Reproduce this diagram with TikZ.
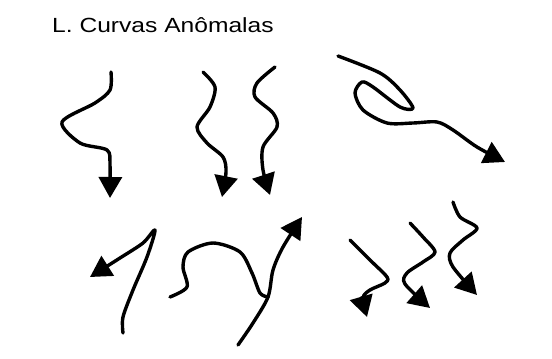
\documentclass[tikz,border=0pt]{standalone}
\usepackage{fontspec}
\setmainfont{Liberation Sans}
\usetikzlibrary{arrows.meta}
\tikzset{
  curva/.style={line width=3.4pt,line cap=round,line join=round},
  seta/.style={-{Triangle[width=23pt,length=21pt]}}
}
\begin{document}
\begin{tikzpicture}[x=1pt,y=-1pt,font=\fontsize{20.5}{24}\selectfont]
	\useasboundingbox (0,0) rectangle (552,359);
	\node[anchor=base west,inner sep=0pt] (titulo) at (52,32) {\scalebox{1.2}[1]{L. Curvas Anômalas}};
	% linha de cima
	\draw[curva,seta] plot[smooth] coordinates {(111,72) (110,90) (95,103) (62,122) (80,143) (107,150) (110,165) (110,198)};
	\draw[curva,seta] plot[smooth] coordinates {(203,72) (215,87) (210,107) (197,127) (207,143) (223,157) (226,172) (222,197)};
	\draw[curva,seta] plot[smooth] coordinates {(275,67) (257,83) (255,97) (273,113) (277,127) (263,147) (263,170) (270,195)};
	\draw[curva,seta] plot[smooth] coordinates {(338,56) (380,73) (400,90) (413,108) (400,107) (373,87) (362,82) (355,93) (363,110) (387,123) (413,123) (437,122) (453,130) (477,147) (505,162)};
	% linha de baixo
	\draw[curva,seta] plot[smooth] coordinates {(123,333) (123,317) (133,290) (147,257) (155,230) (143,243) (120,258) (90,277)};
	\draw[curva] plot[smooth] coordinates {(170,297) (187,287) (183,267) (188,252) (213,243) (240,252) (252,273) (260,293) (268,297)};
	\draw[curva,seta] plot[smooth] coordinates {(238,345) (253,323) (268,297) (273,270) (283,247) (302,217)};
	\draw[curva,seta] plot[smooth] coordinates {(350,240) (370,260) (387,277) (385,283) (370,290) (363,298) (367,317)};
	\draw[curva,seta] plot[smooth] coordinates {(410,223) (423,237) (435,252) (423,262) (407,273) (405,284) (430,308)};
	\draw[curva,seta] plot[smooth] coordinates {(453,202) (460,217) (477,228) (463,240) (450,253) (453,267) (477,295)};
\end{tikzpicture}
\end{document}
